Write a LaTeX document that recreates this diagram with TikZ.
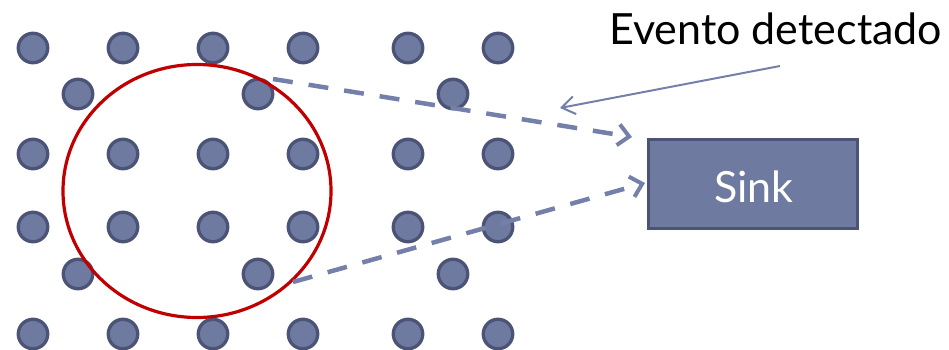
\documentclass[tikz,border=0pt]{standalone}
\usepackage{fontspec}
\setmainfont{Lato}
\usetikzlibrary{arrows.meta,shapes.geometric}
\definecolor{dotfill}{HTML}{6E7AA0}
\definecolor{dotedge}{HTML}{4B5476}
\definecolor{linkblue}{HTML}{7480AA}
\definecolor{zonered}{HTML}{C00000}
\begin{document}
\begin{tikzpicture}[x=1pt,y=-1pt,
  sensor/.style={circle,fill=dotfill,draw=dotedge,line width=3.3pt,minimum size=29.5pt,inner sep=0pt},
  zone/.style={ellipse,draw=zonered,line width=3.2pt,minimum width=268pt,minimum height=253pt,inner sep=0pt},
  sinkbox/.style={rectangle,fill=dotfill,draw=dotedge,line width=3pt,minimum width=209pt,minimum height=89pt,inner sep=0pt},
  report/.style={draw=linkblue,line width=4.5pt,dash pattern=on 20pt off 16pt,
    -{Straight Barb[length=11pt,width=21pt,line width=4pt]}},
  pointer/.style={draw=linkblue,line width=2pt,-{Straight Barb[length=13pt,width=18pt,line width=2pt]}},
  bigtext/.style={font=\fontsize{43}{50}\selectfont,inner sep=0pt}
]
\useasboundingbox (0,0) rectangle (949,350);

% sensor field: full rows and offset rows
\foreach \r/\y in {1/48,3/154,4/227,6/334}{
  \foreach \c/\x in {1/33,2/123,3/213,4/303,5/408,6/498}{
    \node[sensor] (s\r\c) at (\x,\y) {};
  }
}
\foreach \r/\y in {2/94,5/274}{
  \foreach \c/\x in {1/78,2/258,3/453}{
    \node[sensor] (s\r\c) at (\x,\y) {};
  }
}

% event zone
\node[zone] (ev) at (197,191) {};

% sink
\node[sinkbox] (sink) at (753,184) {};
\node[bigtext,text=white,anchor=base] (sinklabel) at (754,202) {Sink};

% event label and its pointer
\node[bigtext,anchor=base west] (evlabel) at (609,45) {Evento detectado};
\coordinate (ptrStart) at (780,66);
\coordinate (ptrEnd) at (560,108);
\draw[pointer] (ptrStart) -- (ptrEnd);

% reports travelling to the sink
\coordinate (topStart) at (273,79);
\coordinate (topEnd) at (632,137);
\coordinate (botStart) at (293,282);
\coordinate (botEnd) at (645,183);
\draw[report] (topStart) -- (topEnd);
\draw[report] (botStart) -- (botEnd);
\end{tikzpicture}
\end{document}
